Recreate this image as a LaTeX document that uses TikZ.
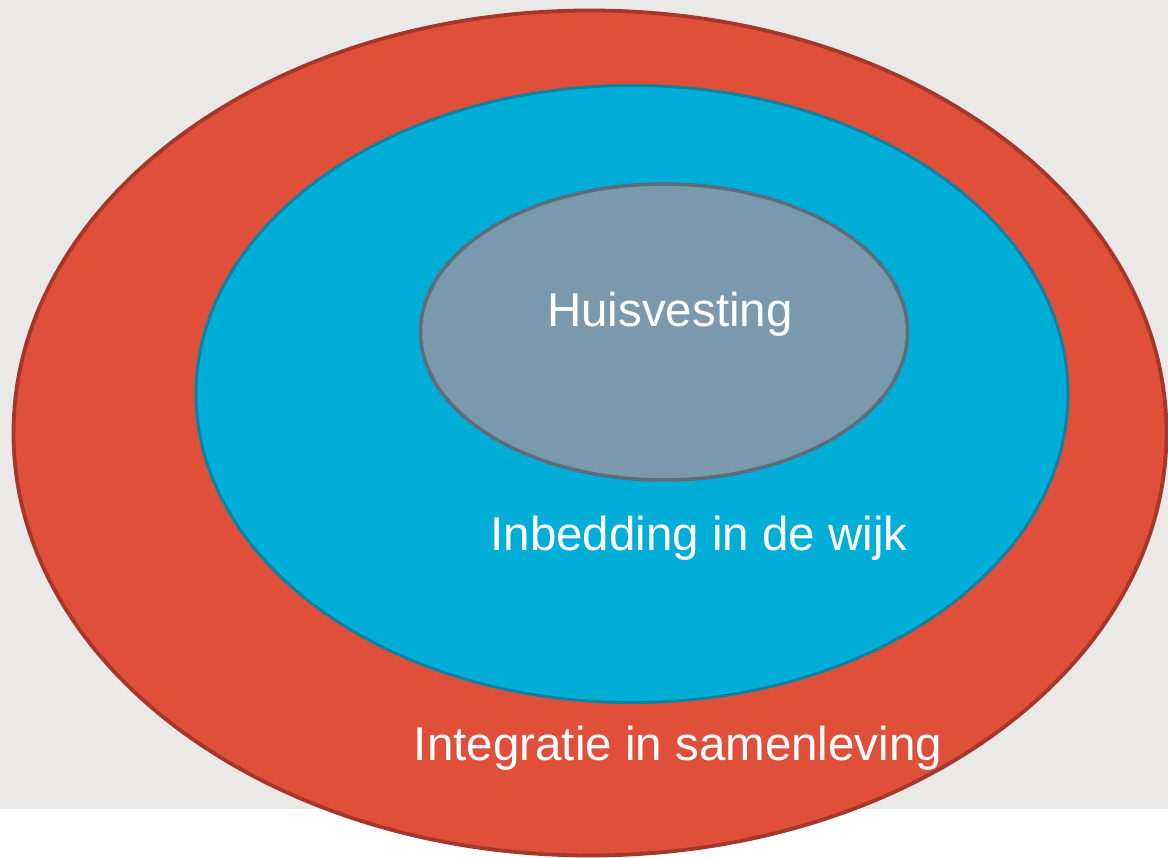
\documentclass[tikz,border=0pt]{standalone}
\usepackage{fontspec}
\setmainfont{Liberation Sans}
\usetikzlibrary{shapes.geometric}
\definecolor{bggray}{HTML}{EAE9E7}
\definecolor{redfill}{HTML}{E04F39}
\definecolor{redline}{HTML}{A5372A}
\definecolor{bluefill}{HTML}{00AED8}
\definecolor{blueline}{HTML}{11819F}
\definecolor{grayfill}{HTML}{7A99AC}
\definecolor{grayline}{HTML}{5B6D7A}
\tikzset{
  ring/.style={ellipse, inner sep=0pt, outer sep=0pt},
  label/.style={anchor=base, text=white, font=\fontsize{47.5}{52}\selectfont, inner sep=0pt}
}
\begin{document}
\begin{tikzpicture}[x=1pt,y=-1pt]
\useasboundingbox (0,0) rectangle (1168,858);
\clip (0,0) rectangle (1168,858);
\fill[white] (0,0) rectangle (1168,858);
\fill[bggray] (0,0) rectangle (1168,809);
\node[ring, draw=redline, fill=redfill, line width=3.8pt, minimum width=1153pt, minimum height=845pt] (outer) at (590,433) {};
\node[ring, draw=blueline, fill=bluefill, line width=3pt, minimum width=872pt, minimum height=617pt] (middle) at (632,394) {};
\node[ring, draw=grayline, fill=grayfill, line width=3.5pt, minimum width=487pt, minimum height=296pt] (inner) at (664,332) {};
\node[label] (t1) at (670,327) {Huisvesting};
\node[label] (t2) at (699,550) {Inbedding in de wijk};
\node[label] (t3) at (678,760) {Integratie in samenleving};
\end{tikzpicture}
\end{document}
